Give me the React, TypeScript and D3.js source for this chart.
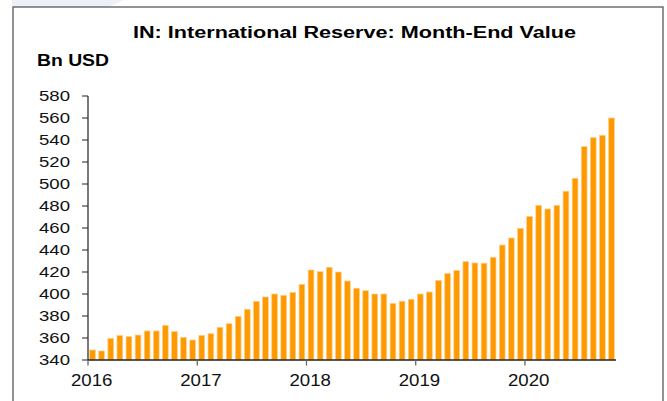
import React from "react";
import * as d3 from "d3";

const startYear = 2016;
const reserves: number[] = [
  349.1, 348.2, 359.7, 362.4, 361.2, 362.7, 366.4, 366.4, 371.5, 365.8, 360.6, 358.2,
  362.4, 363.9, 369.7, 373.0, 379.7, 386.1, 393.2, 397.3, 400.0, 398.8, 401.5, 408.8,
  421.8, 420.3, 424.3, 420.0, 411.8, 405.2, 403.0, 400.0, 400.0, 391.5, 393.4, 395.2,
  400.0, 401.8, 412.4, 418.5, 421.5, 429.4, 428.2, 428.0, 433.4, 444.5, 450.9, 459.7,
  470.6, 480.6, 477.3, 480.6, 493.4, 505.2, 534.0, 542.1, 544.3, 560.0,
];
const yTicks: number[] = [340, 360, 380, 400, 420, 440, 460, 480, 500, 520, 540, 560, 580];
const yearLabels: string[] = ["2016", "2017", "2018", "2019", "2020"];
const title = "IN: International Reserve: Month-End Value";
const unitLabel = "Bn USD";

const W = 667;
const H = 401;
const FONT = "'Liberation Sans', Arial, Helvetica, sans-serif";

export default function App() {
  const left = 88;
  const right = 616;
  const top = 96;
  const bottom = 360;

  const months = reserves.map((_, i) => i);
  const x = d3.scaleBand<number>().domain(months).range([left, right]).paddingInner(0.37).paddingOuter(0.18);
  const step = (right - left) / reserves.length;
  const y = d3.scaleLinear().domain([340, 580]).range([bottom, top]);

  const yearX = (i: number) => left + i * 12 * step;

  return (
    <svg
      width={W}
      height={H}
      style={{ position: "absolute", left: 0, top: 0, display: "block", background: "#fff" }}
    >
      {/* faint watermark */}
      <polygon points="12,0 124,0 108,7 12,7" fill="#eef0f7" />
      {/* frame */}
      <rect x={13} y={7} width={650} height={420} fill="none" stroke="#5a5a5a" strokeWidth={1.3} />

      <text
        x={133}
        y={38}
        fontFamily={FONT}
        fontWeight="bold"
        fontSize={16}
        textLength={443}
        lengthAdjust="spacingAndGlyphs"
        fill="#000"
      >
        {title}
      </text>
      <text
        x={37}
        y={66}
        fontFamily={FONT}
        fontWeight="bold"
        fontSize={16}
        textLength={72}
        lengthAdjust="spacingAndGlyphs"
        fill="#000"
      >
        {unitLabel}
      </text>

      {/* bars */}
      {reserves.map((v, i) => (
        <rect
          key={i}
          x={x(i)!}
          y={y(v)}
          width={x.bandwidth()}
          height={bottom - y(v)}
          fill="#FF9900"
          stroke="#FFCF8A"
          strokeWidth={0.7}
        />
      ))}

      {/* y axis */}
      <line x1={left} x2={left} y1={top} y2={bottom + 0.5} stroke="#222" strokeWidth={1.2} />
      {yTicks.map((t) => (
        <g key={t}>
          <line x1={left - 6} x2={left} y1={y(t)} y2={y(t)} stroke="#222" strokeWidth={1} />
          <text
            x={39}
            y={y(t) + 5}
            fontFamily={FONT}
            fontSize={14.5}
            textLength={31}
            lengthAdjust="spacingAndGlyphs"
            fill="#111"
          >
            {t}
          </text>
        </g>
      ))}

      {/* x axis */}
      <line x1={left} x2={right} y1={bottom} y2={bottom} stroke="#222" strokeWidth={1.3} />
      {yearLabels.map((lab, i) => (
        <g key={lab}>
          <line x1={yearX(i)} x2={yearX(i)} y1={bottom} y2={bottom + 5.5} stroke="#666" strokeWidth={1.3} />
          <text
            x={yearX(i) + 3.8 - 20.8}
            y={385.7}
            fontFamily={FONT}
            fontSize={17}
            textLength={41.5}
            lengthAdjust="spacingAndGlyphs"
            fill="#111"
          >
            {lab}
          </text>
        </g>
      ))}
    </svg>
  );
}
